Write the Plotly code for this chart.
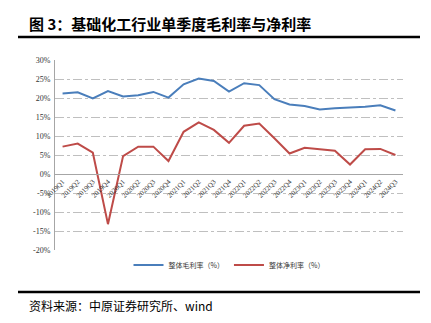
import plotly.graph_objects as go

quarters = ["2019Q1","2019Q2","2019Q3","2019Q4","2020Q1","2020Q2","2020Q3","2020Q4",
            "2021Q1","2021Q2","2021Q3","2021Q4","2022Q1","2022Q2","2022Q3","2022Q4",
            "2023Q1","2023Q2","2023Q3","2023Q4","2024Q1","2024Q2","2024Q3"]
gross_margin = [21.2, 21.5, 19.9, 21.8, 20.4, 20.7, 21.6, 20.1,
                23.6, 25.1, 24.5, 21.7, 23.9, 23.4, 19.7, 18.3,
                17.9, 17.0, 17.3, 17.5, 17.7, 18.1, 16.7]
net_margin = [7.2, 8.0, 5.6, -13.2, 4.7, 7.2, 7.2, 3.4,
              11.1, 13.6, 11.6, 8.2, 12.7, 13.3, 9.4, 5.4,
              6.9, 6.5, 6.1, 2.5, 6.5, 6.6, 5.0]
series_names = ["整体毛利率（%）", "整体净利率（%）"]
y_ticks = [30, 25, 20, 15, 10, 5, 0, -5, -10, -15, -20]
y_tick_text = [f"{v}%" for v in y_ticks]

L, R, T, B = 55, 28, 60, 73
W, H = 431, 323
pw, ph = W - L - R, H - T - B

def px_x(x):
    return (x - L) / pw

def px_y(y):
    return (H - B - y) / ph

fig = go.Figure()
fig.add_trace(go.Scatter(x=quarters, y=gross_margin, mode="lines", name=series_names[0],
                         line=dict(color="#4a7ebb", width=2)))
fig.add_trace(go.Scatter(x=quarters, y=net_margin, mode="lines", name=series_names[1],
                         line=dict(color="#be4b48", width=2)))

serif = "Liberation Serif, Times New Roman, serif"
cjk = "Noto Sans CJK SC"

fig.update_layout(
    width=W, height=H,
    margin=dict(l=L, r=R, t=T, b=B),
    paper_bgcolor="white", plot_bgcolor="white",
    showlegend=True,
    legend=dict(orientation="h", x=0.5, xanchor="center", y=px_y(265), yanchor="middle",
                font=dict(family=cjk, size=7, color="#333333"),
                itemwidth=30, tracegroupgap=0, bgcolor="rgba(0,0,0,0)"),
    xaxis=dict(
        type="category", range=[-0.5, len(quarters) - 0.5],
        anchor="free", position=(0 - (-20)) / 50,
        showline=True, linecolor="#a6a6a6", linewidth=1,
        showgrid=False, ticks="", tickangle=-45,
        tickfont=dict(family=serif, size=7, color="#333333"),
        zeroline=False,
    ),
    yaxis=dict(
        range=[-20, 30], tickvals=y_ticks, ticktext=y_tick_text,
        showline=True, linecolor="#a6a6a6", linewidth=1,
        showgrid=True, gridcolor="#bfbfbf", gridwidth=1, griddash="dashdot",
        zeroline=False, ticks="",
        tickfont=dict(family=serif, size=8, color="#333333"),
        ticklabelstandoff=2,
    ),
    shapes=[
        dict(type="line", xref="paper", yref="paper", x0=px_x(18), x1=px_x(420),
             y0=px_y(37), y1=px_y(37), line=dict(color="black", width=2.5)),
        dict(type="line", xref="paper", yref="paper", x0=px_x(18), x1=px_x(420),
             y0=px_y(292), y1=px_y(292), line=dict(color="black", width=2.5)),
    ],
    annotations=[
        dict(text="<b>图 3：基础化工行业单季度毛利率与净利率</b>", xref="paper", yref="paper",
             x=px_x(27), y=px_y(23), xanchor="left", yanchor="middle", showarrow=False,
             font=dict(family=cjk, size=15, color="black")),
        dict(text="资料来源：中原证券研究所、wind", xref="paper", yref="paper",
             x=px_x(27), y=px_y(305), xanchor="left", yanchor="middle", showarrow=False,
             font=dict(family=cjk, size=12, color="black")),
    ],
)

fig.write_html("out.html")
